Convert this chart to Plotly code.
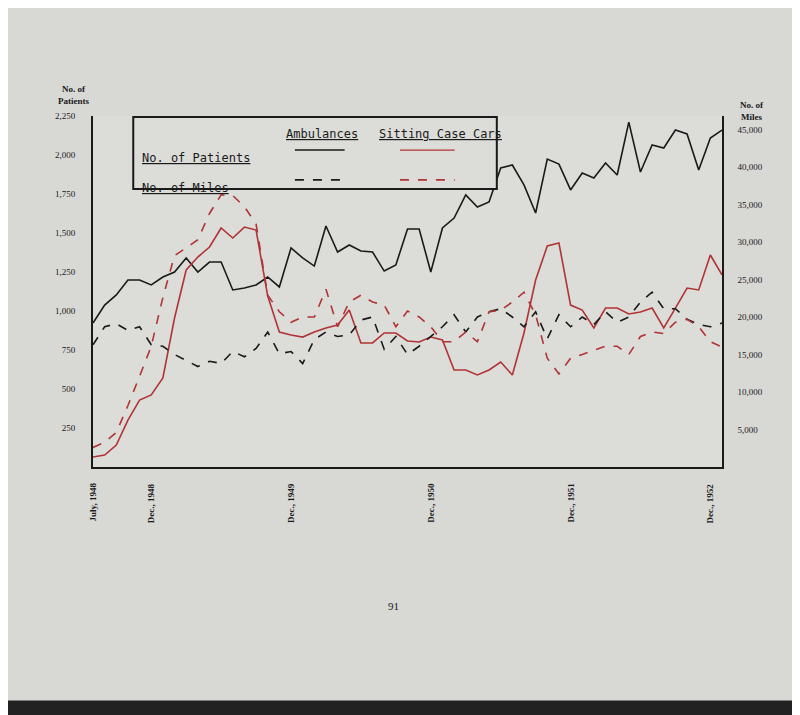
import plotly.graph_objects as go

months = list(range(55))  # July 1948 .. Jan 1953
amb_patients = [923,1038,1103,1199,1199,1167,1218,1250,1340,1250,1314,1314,1135,1147,1167,1218,1154,1404,1340,1288,1545,1378,1423,1385,1378,1256,1295,1526,1526,1250,1532,1596,1744,1667,1699,1917,1936,1808,1628,1974,1942,1776,1885,1853,1949,1872,2211,1891,2064,2045,2160,2135,1904,2109,2160]
sit_patients = [64,77,141,301,429,462,571,955,1263,1346,1410,1532,1468,1538,1519,1096,865,846,833,865,891,910,1006,795,795,859,859,808,801,833,814,622,622,590,622,673,590,859,1199,1417,1436,1038,1006,891,1019,1019,981,994,1019,891,1019,1147,1135,1359,1231]
amb_miles = [16300,18700,19100,18200,18700,16300,16100,15000,14200,13400,14100,13800,15400,14700,15800,18000,15100,15400,13800,17000,18000,17400,17600,19600,20000,15700,17400,15000,16100,17400,18700,20300,18000,20000,20700,21100,20000,18700,20700,17100,20300,18700,20000,19000,20700,19300,20000,22000,23300,21100,21100,19700,19000,18700,19200]
sit_miles = [2600,3300,4600,8200,12100,16100,22600,28200,29200,30300,33800,36300,36200,34700,32400,22900,20700,19300,20000,20000,23700,18700,22000,22900,22000,21600,18700,20800,20000,18700,16700,16700,18000,16700,20700,20900,22000,23300,20300,14500,12400,14500,15000,15500,16100,16100,15000,17400,18000,17800,19300,19700,18700,16700,16000]
left_ticks = [250,500,750,1000,1250,1500,1750,2000,2250]
left_labels = ["250","500","750","1,000","1,250","1,500","1,750","2,000","2,250"]
right_ticks = [5000,10000,15000,20000,25000,30000,35000,40000,45000]
right_labels = ["5,000","10,000","15,000","20,000","25,000","30,000","35,000","40,000","45,000"]
date_pos = [0,5,17,29,41,53]
date_labels = ["July, 1948","Dec., 1948","Dec., 1949","Dec., 1950","Dec., 1951","Dec., 1952"]

BLK = "#1a1a1a"; RED = "#b03434"
serif = "Liberation Serif"
mono = "DejaVu Sans Mono"
fig = go.Figure()
fig.add_trace(go.Scatter(x=months, y=amb_patients, mode="lines", line=dict(color=BLK, width=1.6)))
fig.add_trace(go.Scatter(x=months, y=sit_patients, mode="lines", line=dict(color=RED, width=1.6)))
fig.add_trace(go.Scatter(x=months, y=amb_miles, yaxis="y2", mode="lines", line=dict(color=BLK, width=1.6, dash="dash")))
fig.add_trace(go.Scatter(x=months, y=sit_miles, yaxis="y2", mode="lines", line=dict(color=RED, width=1.6, dash="dash")))

fig.update_layout(
    width=800, height=715, showlegend=False,
    paper_bgcolor="#d8d8d5", plot_bgcolor="#dcdcd9",
    margin=dict(l=85, r=86, t=108, b=256),
    font=dict(family=serif, color=BLK),
    xaxis=dict(range=[0, 54], showgrid=False, zeroline=False, showticklabels=False, ticks="",
               showline=True, linecolor=BLK, linewidth=2),
    yaxis=dict(range=[0, 2250], tickvals=left_ticks, ticktext=left_labels, showgrid=False, zeroline=False,
               showline=True, linecolor=BLK, linewidth=2, ticks="", ticklabelstandoff=14,
               tickfont=dict(size=9, family=serif, color=BLK)),
    yaxis2=dict(range=[0, 46800], overlaying="y", side="right", tickvals=right_ticks, ticktext=right_labels,
                showgrid=False, zeroline=False, showline=True, linecolor=BLK, linewidth=1.5, ticks="",
                ticklabelstandoff=12, tickfont=dict(size=9, family=serif, color=BLK)),
)
ann = [
    dict(x=0.0, y=1.0, xref="paper", yref="paper", text="<b>No. of<br>Patients</b>", xshift=-2, yshift=8,
         showarrow=False, font=dict(size=9), align="center", xanchor="right", yanchor="bottom"),
    dict(x=1.0, y=1.0, xref="paper", yref="paper", text="<b>No. of<br>Miles</b>", xshift=30, yshift=-8,
         showarrow=False, font=dict(size=9), align="center", xanchor="center", yanchor="bottom"),
    dict(x=0.478, y=-0.42, xref="paper", yref="paper", text="91", showarrow=False, font=dict(size=11)),
]
for p, t in zip(date_pos, date_labels):
    ann.append(dict(x=p, y=-0.04, xref="x", yref="paper", text="<b>"+t+"</b>", textangle=-90,
                    showarrow=False, font=dict(size=9), xanchor="center", yanchor="top"))
ann += [
    dict(x=0.364, y=0.974, xref="paper", yref="paper", text="<u>Ambulances</u>", showarrow=False, font=dict(size=12, family=mono)),
    dict(x=0.552, y=0.974, xref="paper", yref="paper", text="<u>Sitting Case Cars</u>", showarrow=False, font=dict(size=12, family=mono)),
    dict(x=0.075, y=0.905, xref="paper", yref="paper", text="<u>No. of Patients</u>", showarrow=False, xanchor="left", font=dict(size=12, family=mono)),
    dict(x=0.075, y=0.82, xref="paper", yref="paper", text="<u>No. of Miles</u>", showarrow=False, xanchor="left", font=dict(size=12, family=mono)),
]
fig.update_layout(annotations=ann)
shapes = [
    dict(type="rect", xref="paper", yref="paper", x0=0.064, x1=0.642, y0=0.792, y1=0.997,
         line=dict(color=BLK, width=2), fillcolor="#dcdcd9", layer="above"),
    dict(type="line", xref="paper", yref="paper", x0=0.321, x1=0.40, y0=0.903, y1=0.903, line=dict(color=BLK, width=1.6)),
    dict(type="line", xref="paper", yref="paper", x0=0.488, x1=0.575, y0=0.903, y1=0.903, line=dict(color=RED, width=1.2)),
    dict(type="line", xref="paper", yref="paper", x0=0.321, x1=0.40, y0=0.818, y1=0.818, line=dict(color=BLK, width=1.6, dash="dash")),
    dict(type="line", xref="paper", yref="paper", x0=0.488, x1=0.575, y0=0.818, y1=0.818, line=dict(color=RED, width=1.6, dash="dash")),
    dict(type="rect", xref="paper", yref="paper", x0=-0.2, x1=1.2, y0=-0.72, y1=-0.665, line=dict(width=0), fillcolor="#222", layer="above"),
]
fig.update_layout(shapes=shapes)
fig.write_html("out.html")
